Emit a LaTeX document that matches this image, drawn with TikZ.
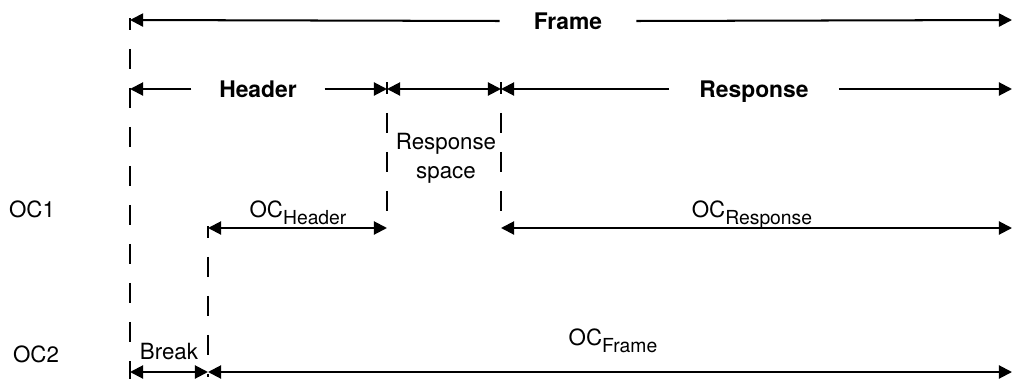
\documentclass[tikz,border=0pt]{standalone}
\usepackage{fontspec}
\setmainfont{TeX Gyre Heros}
\usetikzlibrary{arrows.meta, positioning, calc}

\newcommand{\ocsub}[1]{\raisebox{-4pt}{\fontsize{11}{13}\selectfont #1}}

\begin{document}
\begin{tikzpicture}[
  x=0.02cm, y=-0.02cm,
  lblnode/.style = {font=\fontsize{12.7}{15}\selectfont, inner sep=0pt, anchor=base},
  titlenode/.style = {font=\fontsize{13}{15}\selectfont\bfseries, inner ysep=0pt,
    inner xsep=0.6cm, text height=9.3pt, text depth=0pt},
  arrow/.style = {-{Triangle[length=7.5pt,width=7.5pt]}, line width=1.15pt},
  spanarrow/.style = {{Triangle[length=7.5pt,width=7.5pt]}-{Triangle[length=7.5pt,width=7.5pt]}, line width=1.15pt},
  guide/.style = {line width=1.15pt, dash pattern=on 0.4cm off 0.38cm, dash phase=0.16cm},
]
\useasboundingbox (0,0) rectangle (1015,379);

% Tick points
\coordinate (f0) at (130,20);
\coordinate (f1) at (1012,20);
\coordinate (h0) at (130,89);
\coordinate (h1) at (387,89);
\coordinate (s1) at (501,89);
\coordinate (r1) at (1012,89);
\coordinate (oh0) at (208,228);
\coordinate (oh1) at (387,228);
\coordinate (or0) at (501,228);
\coordinate (or1) at (1012,228);
\coordinate (b0) at (130,372);
\coordinate (b1) at (208,372);
\coordinate (of1) at (1012,372);

% Guide line ends
\coordinate (g0top) at (130,18);
\coordinate (g0bot) at (130,379);
\coordinate (g1top) at (208,226);
\coordinate (g1bot) at (208,377);
\coordinate (g2top) at (387,82);
\coordinate (g3top) at (501,82);

% Dashed guides
\draw[guide] (g0top) -- (g0bot);
\draw[guide] (g1top) -- (g1bot);
\draw[guide] (g2top) -- (oh1);
\draw[guide] (g3top) -- (or0);

% Frame / Header / Response
\node[titlenode, inner xsep=0.68cm] (frame) at (568,21) {Frame};
\draw[arrow] (frame.west) -- (f0);
\draw[arrow] (frame.east) -- (f1);

\node[titlenode, inner xsep=0.55cm] (header) at (258,89) {Header};
\draw[arrow] (header.west) -- (h0);
\draw[arrow] (header.east) -- (h1);

\draw[spanarrow] (h1) -- (s1);
\node[font=\fontsize{12.7}{16.4}\selectfont, align=center, inner sep=0pt] (rspace)
  at (446,158) {Response\\space};

\node[titlenode] (resp) at (754,89) {Response};
\draw[arrow] (resp.west) -- (s1);
\draw[arrow] (resp.east) -- (r1);

% OC1 row
\node[lblnode] (oc1) at (32,217) {OC1};
\draw[spanarrow] (oh0) -- (oh1);
\node[lblnode] (ochead) at (298,217) {OC\ocsub{Header}};
\draw[spanarrow] (or0) -- (or1);
\node[lblnode] (ocresp) at (752,217) {OC\ocsub{Response}};

% OC2 row
\node[lblnode] (oc2) at (36,362) {OC2};
\draw[spanarrow] (b0) -- (b1);
\node[lblnode] (brk) at (169,359) {Break};
\draw[spanarrow] (b1) -- (of1);
\node[lblnode] (ocframe) at (613,345) {OC\ocsub{Frame}};
\end{tikzpicture}
\end{document}
